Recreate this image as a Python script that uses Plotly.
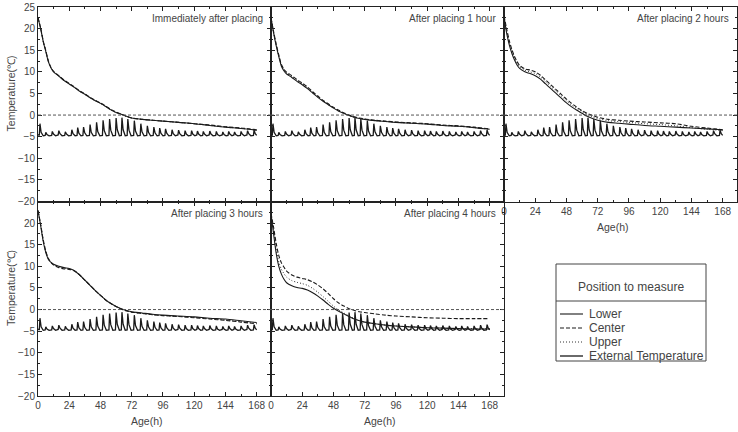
import plotly.graph_objects as go
from plotly.subplots import make_subplots

# ---------------- data ----------------
hours = [0, 2, 4, 6, 8, 10, 12, 16, 20, 24, 28, 32, 36, 40, 44, 48, 52, 56, 60, 64,
         68, 72, 80, 88, 96, 108, 120, 132, 144, 156, 168]

panel_titles = ["Immediately after placing", "After placing 1 hour", "After placing 2 hours",
                "After placing 3 hours", "After placing 4 hours"]

# Immediately after placing
p0_lower = [22.5, 20.0, 17.0, 14.7, 12.3, 10.9, 10.0, 9.0, 8.0, 7.2, 6.4, 5.5, 4.8, 4.0, 3.3, 2.7,
            2.0, 1.2, 0.6, 0.2, -0.3, -0.7, -1.0, -1.2, -1.4, -1.7, -2.0, -2.4, -2.8, -3.1, -3.5]
p0_center = [22.6, 20.2, 17.2, 14.9, 12.5, 11.0, 10.1, 9.1, 8.1, 7.3, 6.5, 5.6, 4.9, 4.1, 3.4, 2.8,
             2.1, 1.3, 0.7, 0.2, -0.3, -0.7, -1.0, -1.2, -1.4, -1.7, -2.0, -2.3, -2.7, -3.0, -3.4]
p0_upper = [22.5, 20.1, 17.1, 14.8, 12.4, 10.9, 10.0, 9.0, 8.0, 7.2, 6.4, 5.5, 4.8, 4.0, 3.3, 2.7,
            2.0, 1.2, 0.6, 0.2, -0.3, -0.7, -1.0, -1.2, -1.4, -1.7, -2.0, -2.4, -2.8, -3.1, -3.5]

# After placing 1 hour
p1_lower = [22.5, 19.0, 16.0, 13.5, 11.3, 10.2, 9.5, 8.7, 7.8, 7.0, 6.1, 5.1, 4.1, 3.2, 2.4, 1.6,
            0.9, 0.4, -0.1, -0.5, -0.8, -1.0, -1.3, -1.5, -1.7, -1.9, -2.1, -2.4, -2.6, -2.9, -3.3]
p1_center = [22.6, 19.3, 16.4, 13.9, 11.7, 10.6, 9.9, 9.1, 8.2, 7.4, 6.5, 5.4, 4.4, 3.4, 2.6, 1.8,
             1.1, 0.5, 0.0, -0.4, -0.7, -0.9, -1.2, -1.4, -1.6, -1.8, -2.0, -2.3, -2.5, -2.8, -3.2]
p1_upper = [22.5, 19.1, 16.2, 13.7, 11.5, 10.4, 9.7, 8.9, 8.0, 7.2, 6.3, 5.2, 4.2, 3.3, 2.5, 1.7,
            1.0, 0.4, -0.1, -0.5, -0.8, -1.0, -1.3, -1.5, -1.7, -1.9, -2.1, -2.4, -2.6, -2.9, -3.3]

# After placing 2 hours
p2_lower = [22.8, 19.0, 16.3, 14.3, 12.8, 11.6, 10.8, 10.0, 9.6, 9.1, 8.3, 7.2, 6.1, 5.0, 3.9, 2.8,
            1.9, 1.1, 0.4, -0.3, -0.8, -1.2, -1.7, -1.9, -2.1, -2.4, -2.6, -2.8, -3.0, -3.2, -3.4]
p2_center = [23.0, 20.0, 17.3, 15.2, 13.6, 12.4, 11.5, 10.7, 10.4, 10.0, 9.2, 8.1, 7.0, 5.9, 4.8, 3.7,
             2.7, 1.8, 1.0, 0.4, -0.1, -0.5, -1.0, -1.2, -1.4, -1.6, -1.8, -2.0, -2.6, -3.0, -3.4]
p2_upper = [22.9, 19.5, 16.8, 14.8, 13.2, 12.0, 11.2, 10.4, 10.0, 9.6, 8.8, 7.7, 6.6, 5.5, 4.4, 3.3,
            2.3, 1.5, 0.8, 0.1, -0.4, -0.8, -1.3, -1.5, -1.7, -2.0, -2.2, -2.5, -2.9, -3.3, -3.6]

# After placing 3 hours
p3_lower = [22.9, 19.5, 15.8, 13.2, 11.6, 10.9, 10.5, 10.0, 9.7, 9.5, 9.0, 8.0, 6.8, 5.6, 4.4, 3.3,
            2.2, 1.4, 0.7, 0.2, -0.2, -0.5, -0.8, -1.1, -1.3, -1.5, -1.7, -2.0, -2.2, -2.6, -3.0]
p3_center = [22.9, 19.8, 16.2, 13.5, 11.8, 10.9, 10.3, 9.7, 9.4, 9.3, 8.9, 8.0, 6.8, 5.6, 4.4, 3.3,
             2.2, 1.4, 0.7, 0.1, -0.3, -0.6, -0.9, -1.2, -1.4, -1.6, -1.9, -2.2, -2.5, -2.9, -3.3]
p3_upper = [22.9, 19.6, 16.0, 13.4, 11.7, 10.9, 10.4, 9.9, 9.6, 9.4, 9.0, 8.0, 6.8, 5.6, 4.4, 3.3,
            2.2, 1.4, 0.7, 0.1, -0.3, -0.6, -0.9, -1.2, -1.4, -1.6, -1.8, -2.1, -2.4, -2.8, -3.2]

# After placing 4 hours
p4_lower = [22.1, 17.5, 13.0, 10.0, 8.2, 7.0, 6.2, 5.5, 5.1, 4.9, 4.5, 3.9, 3.1, 2.2, 1.2, 0.3,
            -0.4, -1.0, -1.6, -2.2, -2.6, -2.9, -3.3, -3.6, -3.8, -4.0, -4.2, -4.3, -4.4, -4.5, -4.5]
p4_center = [22.3, 19.0, 15.3, 12.5, 10.8, 9.8, 8.9, 8.0, 7.5, 7.2, 6.9, 6.4, 5.7, 4.8, 3.7, 2.5,
             1.5, 0.8, 0.2, -0.2, -0.5, -0.7, -1.0, -1.3, -1.5, -1.7, -1.9, -2.0, -2.1, -2.1, -2.1]
p4_upper = [22.2, 18.2, 14.0, 11.0, 9.3, 8.3, 7.5, 6.7, 6.3, 6.0, 5.6, 4.9, 4.0, 3.0, 1.9, 0.8,
            -0.1, -0.8, -1.5, -2.1, -2.6, -2.9, -3.3, -3.6, -3.8, -4.0, -4.2, -4.3, -4.4, -4.4, -4.4]

lower_sets = [p0_lower, p1_lower, p2_lower, p3_lower, p4_lower]
center_sets = [p0_center, p1_center, p2_center, p3_center, p4_center]
upper_sets = [p0_upper, p1_upper, p2_upper, p3_upper, p4_upper]

# External temperature (identical in all panels)
ext_t = [0.0,
         1.0, 1.5, 2.4, 4.0,
         5.5, 6.0, 6.9, 8.5,
         10.5, 11.0, 11.9, 13.5,
         15.5, 16.0, 16.9, 18.5,
         20.5, 21.0, 21.9, 23.5,
         25.5, 26.0, 26.9, 28.5,
         30.0, 30.5, 31.4, 33.0,
         34.5, 35.0, 35.9, 37.5,
         39.5, 40.0, 40.9, 42.5,
         44.5, 45.0, 45.9, 47.5,
         49.5, 50.0, 50.9, 52.5,
         54.5, 55.0, 55.9, 57.5,
         59.5, 60.0, 60.9, 62.5,
         64.0, 64.5, 65.4, 67.0,
         68.5, 69.0, 69.9, 71.5,
         73.5, 74.0, 74.9, 76.5,
         78.5, 79.0, 79.9, 81.5,
         83.5, 84.0, 84.9, 86.5,
         88.5, 89.0, 89.9, 91.5,
         93.0, 93.5, 94.4, 96.0,
         97.5, 98.0, 98.9, 100.5,
         102.5, 103.0, 103.9, 105.5,
         107.5, 108.0, 108.9, 110.5,
         112.5, 113.0, 113.9, 115.5,
         117.5, 118.0, 118.9, 120.5,
         122.0, 122.5, 123.4, 125.0,
         126.5, 127.0, 127.9, 129.5,
         131.5, 132.0, 132.9, 134.5,
         136.5, 137.0, 137.9, 139.5,
         141.5, 142.0, 142.9, 144.5,
         146.0, 146.5, 147.4, 149.0,
         150.5, 151.0, 151.9, 153.5,
         155.5, 156.0, 156.9, 158.5,
         160.5, 161.0, 161.9, 163.5,
         165.5, 166.0, 166.9, 168.0]
ext_v = [-4.5,
         -4.7, -2.0, -4.0, -4.8,
         -4.7, -4.0, -4.5, -4.8,
         -4.7, -3.8, -4.4, -4.8,
         -4.6, -3.6, -4.3, -4.8,
         -4.7, -3.9, -4.4, -4.8,
         -4.7, -3.4, -4.3, -4.8,
         -4.7, -2.9, -4.2, -4.8,
         -4.7, -2.8, -4.1, -4.8,
         -4.7, -2.2, -4.0, -4.8,
         -4.7, -1.7, -3.8, -4.8,
         -4.7, -1.2, -3.6, -4.8,
         -4.7, -0.9, -3.5, -4.8,
         -4.7, -0.7, -3.4, -4.8,
         -4.7, -0.6, -3.4, -4.8,
         -4.7, -0.9, -3.5, -4.8,
         -4.7, -1.3, -3.7, -4.8,
         -4.7, -2.0, -3.9, -4.8,
         -4.7, -2.5, -4.0, -4.8,
         -4.7, -2.8, -4.1, -4.8,
         -4.7, -3.0, -4.2, -4.8,
         -4.7, -3.2, -4.2, -4.8,
         -4.7, -3.4, -4.3, -4.8,
         -4.6, -3.5, -4.3, -4.8,
         -4.7, -3.6, -4.4, -4.8,
         -4.7, -3.6, -4.4, -4.8,
         -4.6, -3.7, -4.4, -4.8,
         -4.7, -3.8, -4.4, -4.8,
         -4.6, -3.7, -4.4, -4.8,
         -4.7, -3.8, -4.5, -4.8,
         -4.6, -3.9, -4.5, -4.8,
         -4.7, -3.8, -4.4, -4.8,
         -4.6, -3.9, -4.5, -4.8,
         -4.7, -3.8, -4.4, -4.8,
         -4.6, -3.6, -4.3, -4.8,
         -4.7, -3.5, -4.3, -4.7]

x_ticks = [0, 24, 48, 72, 96, 120, 144, 168]
y_ticks_top = [-20, -15, -10, -5, 0, 5, 10, 15, 20, 25]
y_ticks_bottom = [-20, -15, -10, -5, 0, 5, 10, 15, 20]
legend_names = ["Lower", "Center", "Upper", "External Temperature"]
legend_title = "Position to measure"

# ---------------- figure ----------------
FONT = "Liberation Sans, Arial, sans-serif"
TXT = "#444444"
LINE = "#1a1a1a"

fig = make_subplots(rows=2, cols=3, horizontal_spacing=0, vertical_spacing=0,
                    specs=[[{}, {}, {}], [{}, {}, None]])

positions = [(1, 1), (1, 2), (1, 3), (2, 1), (2, 2)]
styles = {
    "Lower": dict(color=LINE, width=1.1, dash="solid"),
    "Center": dict(color=LINE, width=1.1, dash="4px,2px"),
    "Upper": dict(color="#333333", width=1.0, dash="1px,2px"),
    "External Temperature": dict(color=LINE, width=1.3, dash="solid"),
}

for i, (r, c) in enumerate(positions):
    fig.add_trace(go.Scatter(x=ext_t, y=ext_v, mode="lines", name="External Temperature",
                             line=styles["External Temperature"], showlegend=False), row=r, col=c)
    fig.add_trace(go.Scatter(x=hours, y=upper_sets[i], mode="lines", name="Upper",
                             line=dict(shape="spline", smoothing=0.8, **styles["Upper"]),
                             showlegend=False), row=r, col=c)
    fig.add_trace(go.Scatter(x=hours, y=center_sets[i], mode="lines", name="Center",
                             line=dict(shape="spline", smoothing=0.8, **styles["Center"]),
                             showlegend=False), row=r, col=c)
    fig.add_trace(go.Scatter(x=hours, y=lower_sets[i], mode="lines", name="Lower",
                             line=dict(shape="spline", smoothing=0.8, **styles["Lower"]),
                             showlegend=False), row=r, col=c)
    fig.add_hline(y=0, line=dict(color="#555555", width=1, dash="3px,2px"), row=r, col=c)

    show_x = (r == 2) or (c == 3)
    fig.update_xaxes(range=[0, 179], tickvals=x_ticks, showticklabels=show_x,
                     ticks="inside", ticklen=4, tickcolor="#222", showline=True,
                     linecolor="#222", linewidth=1, mirror="allticks", showgrid=False,
                     zeroline=False,
                     minor=dict(dtick=12, tick0=0, ticks="inside", ticklen=2, tickcolor="#222"),
                     tickfont=dict(family=FONT, size=10, color=TXT), row=r, col=c)
    fig.update_yaxes(range=[-20, 25], tickvals=(y_ticks_top if r == 1 else y_ticks_bottom),
                     showticklabels=(c == 1),
                     ticks="inside", ticklen=4, tickcolor="#222", showline=True,
                     linecolor="#222", linewidth=1, mirror="allticks", showgrid=False,
                     zeroline=False,
                     minor=dict(dtick=2.5, tick0=0, ticks="inside", ticklen=2, tickcolor="#222"),
                     tickfont=dict(family=FONT, size=10, color=TXT), row=r, col=c)

# panel titles
axis_ids = ["", "2", "3", "4", "5"]
for i, aid in enumerate(axis_ids):
    fig.add_annotation(text=panel_titles[i], xref=f"x{aid} domain", yref=f"y{aid} domain",
                       x=1, y=1, xanchor="right", yanchor="top", xshift=-6, yshift=-4,
                       showarrow=False, font=dict(family=FONT, size=10, color=TXT))

# axis titles
for aid in ["4", "5", "3"]:
    fig.add_annotation(text="Age(h)", xref=f"x{aid}", yref=f"y{aid} domain", x=84, y=0,
                       xanchor="center", yanchor="top", yshift=-17, showarrow=False,
                       font=dict(family=FONT, size=10.5, color=TXT))
for aid in ["", "4"]:
    fig.add_annotation(text="Temperature(℃)", xref="paper", yref=f"y{aid}", x=0, y=5,
                       xanchor="center", yanchor="middle", xshift=-27, textangle=-90,
                       showarrow=False, font=dict(family=FONT, size=10.5, color=TXT))

# legend box (drawn in the empty cell)
def px_x(p):
    return (p - 38) / 699.0

def px_y(p):
    return (396 - p) / 389.0

fig.add_shape(type="rect", xref="paper", yref="paper", x0=px_x(556), x1=px_x(706),
              y0=px_y(361), y1=px_y(264), line=dict(color="#444", width=1), fillcolor="white")
fig.add_shape(type="line", xref="paper", yref="paper", x0=px_x(556), x1=px_x(706),
              y0=px_y(301), y1=px_y(301), line=dict(color="#444", width=1))
fig.add_annotation(text=legend_title, xref="paper", yref="paper", x=px_x(631), y=px_y(287),
                   xanchor="center", yanchor="middle", showarrow=False,
                   font=dict(family=FONT, size=12, color=TXT))
item_y = [314, 328, 342, 356]
for name, yy in zip(legend_names, item_y):
    st = styles[name]
    fig.add_shape(type="line", xref="paper", yref="paper", x0=px_x(560), x1=px_x(583),
                  y0=px_y(yy), y1=px_y(yy), line=dict(color=st["color"], width=st["width"],
                                                      dash=st["dash"]))
    fig.add_annotation(text=name, xref="paper", yref="paper", x=px_x(587), y=px_y(yy),
                       xanchor="left", yanchor="middle", showarrow=False,
                       font=dict(family=FONT, size=12, color=TXT))

fig.update_layout(width=738, height=432, margin=dict(l=38, r=1, t=7, b=36, autoexpand=False),
                  plot_bgcolor="white", paper_bgcolor="white", showlegend=False,
                  font=dict(family=FONT, size=10, color=TXT))

fig.write_html("out.html")
